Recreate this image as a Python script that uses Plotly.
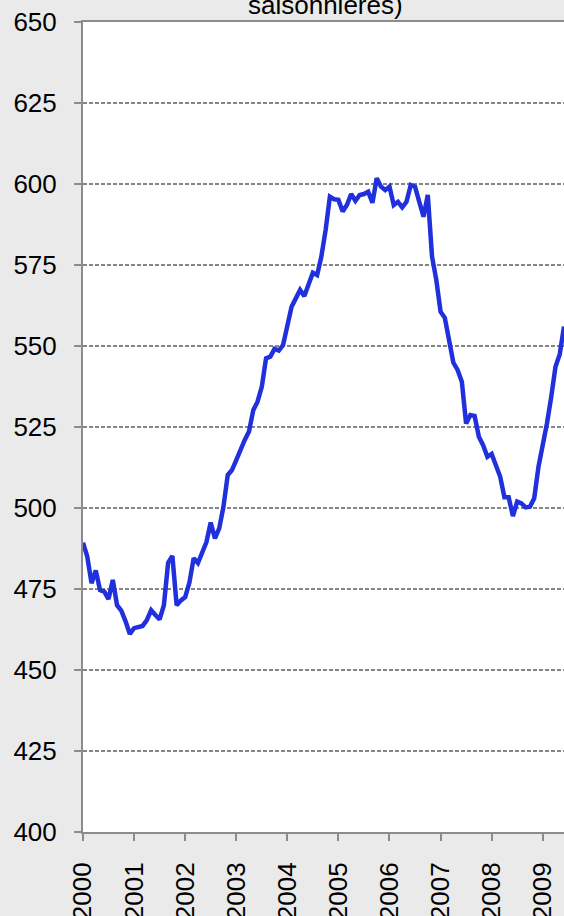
import plotly.graph_objects as go

# Monthly values, January 2000 onwards
values = [489.3, 485.0, 476.8, 480.7, 474.7, 474.2, 471.9, 477.8, 470.0, 468.3, 465.0, 461.1,
          462.9, 463.4, 463.6, 465.4, 468.5, 467.0, 465.6, 470.0, 483.1, 485.2, 470.0, 471.5,
          472.5, 477.0, 484.5, 483.0, 486.0, 489.5, 495.5, 490.6, 493.7, 500.4, 510.2, 511.7,
          514.8, 518.4, 521.0, 523.6, 530.2, 532.8, 537.4, 546.2, 546.7, 549.1, 548.6, 550.3,
          557.0, 562.1, 564.7, 567.3, 565.4, 568.8, 572.6, 571.9, 577.6, 585.8, 596.1, 595.3,
          595.1, 591.5, 593.5, 596.9, 594.8, 596.6, 596.9, 597.6, 594.2, 601.8, 599.2, 598.1,
          599.2, 593.5, 594.5, 592.8, 594.5, 599.7, 599.2, 594.5, 589.9, 596.6, 577.6, 570.4,
          560.6, 558.7, 551.9, 544.9, 542.6, 539.0, 526.1, 528.7, 528.4, 522.0, 519.4, 515.8,
          516.7, 513.3, 509.7, 503.3, 503.3, 497.5, 502.0, 501.4, 500.2, 500.4, 503.0, 512.7,
          518.9, 526.1, 534.3, 543.6, 547.5, 556.0]
start_year = 2000
years = [2000, 2001, 2002, 2003, 2004, 2005, 2006, 2007, 2008, 2009]
year_labels = [str(y) for y in years]
y_ticks = [400, 425, 450, 475, 500, 525, 550, 575, 600, 625, 650]
title_tail = "saisonnières)"

x = [start_year + i / 12 for i in range(len(values))]

axis_grey = "#8c8c8c"
grid_grey = "#858585"
font_family = "Liberation Sans, Arial, sans-serif"

fig = go.Figure()
fig.add_trace(go.Scatter(x=x, y=values, mode="lines",
                         line=dict(color="#2030DD", width=4.5),
                         showlegend=False, hoverinfo="skip"))

fig.update_layout(
    width=564, height=916,
    margin=dict(l=83, r=0, t=22, b=84),
    paper_bgcolor="#EAEAEA",
    plot_bgcolor="#FFFFFF",
    font=dict(family=font_family, size=26, color="#000000"),
    showlegend=False,
)

fig.update_xaxes(
    range=[x[0], x[-1]],
    tickmode="array", tickvals=years, ticktext=year_labels,
    tickangle=-90,
    ticks="outside", ticklen=7, tickwidth=1.5, tickcolor=axis_grey,
    showline=True, linecolor=axis_grey, linewidth=2, mirror=True,
    showgrid=False, zeroline=False, automargin=False,
    tickfont=dict(family=font_family, size=26, color="#000000"),
    ticklabelstandoff=11,
)

fig.update_yaxes(
    range=[400, 650],
    tickmode="array", tickvals=y_ticks,
    ticks="outside", ticklen=7, tickwidth=1.5, tickcolor=axis_grey,
    showline=True, linecolor=axis_grey, linewidth=2,
    showgrid=True, gridcolor=grid_grey, gridwidth=1.6, griddash="4px,2px",
    zeroline=False, automargin=False,
    tickfont=dict(family=font_family, size=26, color="#000000"),
    ticklabelstandoff=12,
)

fig.add_annotation(
    text=title_tail, xref="paper", yref="paper", x=0.505, y=1,
    xanchor="center", yanchor="bottom", showarrow=False,
    font=dict(family=font_family, size=26, color="#000000"),
)

post_js = (
    "document.documentElement.style.margin='0';"
    "document.documentElement.style.overflow='hidden';"
    "document.body.style.margin='0';"
    "document.body.style.overflow='hidden';"
)

fig.write_html("out.html", post_script=post_js, config={"displayModeBar": False})
